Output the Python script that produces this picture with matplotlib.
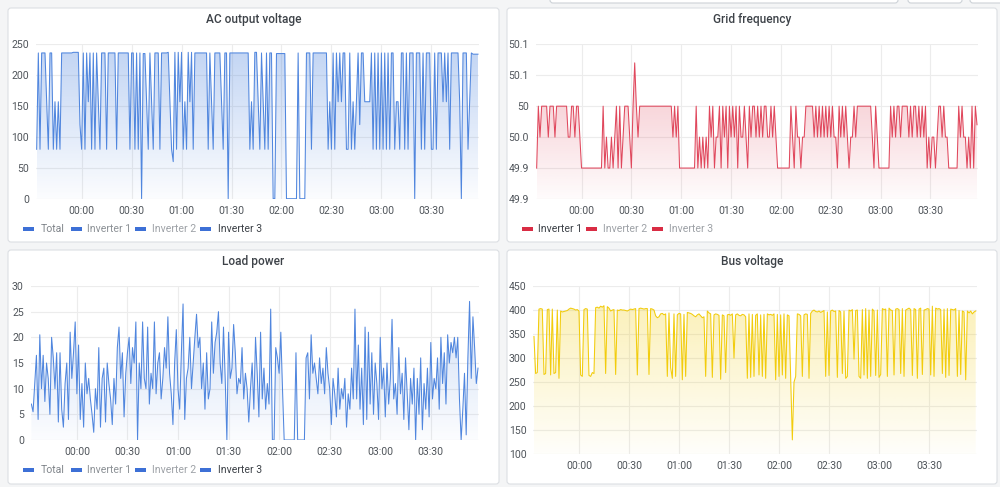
import matplotlib
matplotlib.use("Agg")
import matplotlib.pyplot as plt
import matplotlib.colors as mcolors
from matplotlib.patches import FancyBboxPatch, Rectangle
import numpy as np

plt.rcParams["font.family"] = ["Roboto", "DejaVu Sans"]

W, H = 1000, 487

# minutes relative to 00:00, first sample at 23:33, one sample per minute
start_minute = -27
x_range = (-27.4, 238.6)
tick_minutes = [0, 30, 60, 90, 120, 150, 180, 210]
tick_labels = ["00:00", "00:30", "01:00", "01:30", "02:00", "02:30", "03:00", "03:30"]

ac_voltage = [
    80, 236, 80, 236, 236, 236, 157, 80, 236, 236,
    80, 157, 80, 157, 80, 236, 236, 236, 236, 236,
    236, 236, 237, 237, 237, 237, 120, 80, 236, 80,
    236, 157, 236, 80, 236, 80, 236, 157, 80, 236,
    236, 236, 80, 236, 236, 236, 236, 236, 80, 236,
    236, 236, 236, 236, 236, 236, 80, 236, 236, 80,
    236, 80, 236, 0, 235, 235, 157, 80, 236, 157,
    80, 236, 236, 236, 80, 236, 236, 236, 236, 237,
    157, 80, 60, 237, 80, 237, 157, 237, 80, 157,
    80, 237, 157, 237, 80, 236, 236, 236, 236, 236,
    236, 236, 236, 80, 236, 157, 80, 236, 236, 236,
    236, 157, 80, 236, 236, 0, 236, 236, 236, 236,
    236, 236, 236, 236, 236, 236, 236, 236, 80, 157,
    80, 237, 237, 157, 80, 236, 157, 80, 236, 80,
    236, 236, 0, 0, 235, 235, 235, 235, 235, 235,
    0, 0, 0, 0, 0, 0, 0, 236, 0, 0,
    0, 0, 236, 236, 236, 80, 236, 236, 236, 236,
    236, 236, 236, 236, 236, 80, 157, 80, 236, 80,
    236, 157, 236, 157, 236, 236, 80, 80, 236, 80,
    157, 80, 157, 236, 120, 236, 236, 157, 157, 157,
    157, 236, 80, 236, 80, 236, 80, 236, 80, 236,
    80, 236, 80, 236, 236, 80, 157, 157, 80, 236,
    236, 80, 236, 80, 236, 236, 236, 0, 236, 236,
    236, 80, 236, 80, 236, 236, 236, 80, 80, 236,
    80, 236, 236, 236, 157, 236, 157, 236, 80, 236,
    236, 236, 236, 236, 157, 0, 236, 236, 236, 80,
    157, 236, 234, 234, 234, 234,
]

grid_frequency = [
    49.9, 50.0, 49.95, 50.0, 50.0, 50.0, 50.0, 49.95, 50.0, 50.0,
    50.0, 49.95, 50.0, 50.0, 50.0, 50.0, 50.0, 50.0, 50.0, 49.95,
    49.95, 50.0, 50.0, 49.95, 50.0, 50.0, 49.95, 49.9, 49.9, 49.9,
    49.9, 49.9, 49.9, 49.9, 49.9, 49.9, 49.9, 49.9, 49.9, 49.9,
    50.0, 49.9, 49.95, 49.9, 49.9, 49.95, 49.9, 49.95, 50.0, 49.9,
    50.0, 49.9, 49.95, 50.0, 50.0, 50.0, 49.95, 49.9, 50.0, 50.07,
    50.0, 49.95, 50.0, 50.0, 50.0, 50.0, 50.0, 50.0, 50.0, 50.0,
    50.0, 50.0, 50.0, 50.0, 50.0, 50.0, 50.0, 50.0, 50.0, 50.0,
    50.0, 50.0, 49.95, 50.0, 49.95, 50.0, 49.9, 49.9, 49.9, 49.9,
    49.9, 49.9, 49.9, 49.9, 49.9, 49.9, 50.0, 49.9, 49.95, 49.9,
    49.95, 49.9, 49.95, 49.9, 50.0, 49.95, 50.0, 49.9, 49.95, 49.95,
    50.0, 49.9, 50.0, 49.95, 50.0, 49.9, 50.0, 49.95, 50.0, 49.95,
    50.0, 49.9, 50.0, 49.95, 49.95, 50.0, 49.95, 49.9, 50.0, 49.95,
    50.0, 50.0, 49.95, 50.0, 49.95, 50.0, 49.95, 50.0, 50.0, 49.95,
    49.95, 50.0, 49.95, 50.0, 49.95, 49.9, 49.9, 49.9, 49.9, 49.9,
    49.9, 49.9, 49.9, 50.0, 49.95, 49.9, 50.0, 49.95, 49.95, 49.9,
    49.95, 49.95, 50.0, 50.0, 50.0, 50.0, 50.0, 49.95, 50.0, 49.95,
    50.0, 49.95, 50.0, 49.95, 50.0, 49.95, 50.0, 49.95, 50.0, 49.95,
    49.95, 49.9, 50.0, 49.95, 50.0, 49.95, 50.0, 49.95, 49.9, 49.95,
    49.95, 50.0, 49.95, 50.0, 50.0, 50.0, 50.0, 50.0, 50.0, 50.0,
    50.0, 50.0, 49.95, 49.9, 50.0, 49.95, 49.9, 49.9, 49.9, 49.9,
    49.9, 49.9, 49.9, 50.0, 49.95, 50.0, 49.95, 50.0, 50.0, 49.95,
    50.0, 50.0, 50.0, 50.0, 49.95, 50.0, 49.95, 50.0, 50.0, 49.95,
    50.0, 49.95, 50.0, 49.95, 50.0, 49.9, 49.95, 49.9, 49.95, 49.95,
    49.9, 49.95, 50.0, 50.0, 49.95, 50.0, 49.95, 49.95, 49.9, 49.9,
    49.9, 49.9, 49.9, 49.9, 50.0, 49.95, 50.0, 49.95, 49.95, 49.9,
    49.95, 49.9, 50.0, 49.9, 50.0, 49.97,
]

load_power = [
    7, 5.5, 11, 16.5, 4, 20.5, 10, 16.5, 7.5, 15,
    12, 5, 20, 16, 10, 17, 3.5, 17, 6, 2.5,
    11, 15, 4, 21, 12, 17, 23, 9, 18.5, 4,
    11, 2.5, 15, 9, 12, 8, 5, 1.5, 10, 6,
    18, 2.5, 12, 14, 3.5, 15, 11, 8, 3, 12,
    7, 18, 22, 12, 17, 4.5, 13, 17, 20, 11,
    18, 15, 23, 0, 15, 10, 23, 12, 10, 22,
    7, 13, 10, 23, 9, 15, 17, 8, 12, 18,
    14, 24, 13, 9, 3, 15, 21.5, 10, 6, 17,
    26.5, 4, 12, 14, 20, 10, 15, 20, 24.5, 18,
    20, 10, 15, 6, 17, 8, 10, 23, 13, 19,
    21, 25, 15, 11, 22, 12, 0, 21, 12, 14,
    22.5, 17, 9, 12, 11, 18, 8, 13, 10, 3.5,
    10, 15, 6, 20, 13, 4.5, 21, 8, 14, 6,
    11, 7, 25.5, 0, 0, 18, 16, 13, 21, 10,
    0, 0, 0, 0, 0, 0, 0, 17, 0, 0,
    0, 0, 0, 16, 17, 8, 20.5, 13, 15, 12,
    9, 16, 11, 14, 9, 18, 13, 10, 3, 12,
    9, 4.5, 14, 6, 10, 8, 12, 2.5, 9, 6,
    14, 8, 25.5, 8, 18.5, 6, 14, 3, 22, 4,
    21, 7, 17, 5, 15, 11, 4, 20, 10, 14,
    4.5, 15, 7, 12, 23.5, 8, 11, 5, 18, 9,
    13, 4, 16, 9, 2, 12, 7, 14, 0, 12,
    5, 16, 2, 11, 6, 14, 4.5, 19, 8, 12,
    10, 16, 6, 20, 11, 17, 7, 20.5, 15, 19,
    17, 20, 16, 20, 8, 0, 6, 13, 1, 16,
    27, 12, 24, 18, 11, 14,
]

bus_voltage = [
    345, 268, 270, 402, 403, 402, 266, 268, 401, 402,
    265, 402, 268, 270, 400, 258, 398, 396, 397, 398,
    399, 402, 404, 403, 402, 400, 401, 398, 265, 262,
    401, 403, 402, 264, 262, 270, 268, 405, 406, 404,
    408, 406, 409, 268, 407, 404, 398, 400, 401, 266,
    400, 399, 401, 400, 400, 399, 398, 400, 402, 401,
    402, 403, 265, 403, 404, 403, 402, 403, 403, 266,
    403, 402, 400, 388, 384, 386, 392, 393, 390, 392,
    262, 394, 280, 258, 392, 262, 390, 393, 392, 255,
    391, 262, 395, 394, 393, 391, 388, 386, 390, 392,
    388, 384, 386, 262, 398, 394, 392, 260, 390, 392,
    391, 389, 256, 390, 388, 270, 390, 391, 389, 392,
    300, 390, 392, 389, 388, 391, 390, 386, 258, 392,
    260, 391, 262, 389, 392, 265, 390, 262, 391, 258,
    392, 390, 391, 389, 392, 255, 391, 262, 390, 265,
    392, 258, 390, 388, 262, 130, 250, 262, 392, 391,
    388, 262, 390, 392, 391, 258, 393, 398, 400, 397,
    396, 398, 395, 397, 399, 262, 396, 264, 398, 400,
    397, 398, 260, 399, 396, 268, 398, 258, 262, 400,
    398, 401, 298, 399, 400, 262, 258, 401, 265, 403,
    258, 400, 262, 402, 398, 264, 400, 260, 266, 403,
    401, 402, 262, 404, 400, 399, 265, 402, 403, 401,
    268, 403, 262, 400, 402, 404, 401, 264, 403, 401,
    258, 402, 404, 266, 400, 401, 403, 402, 265, 408,
    262, 404, 402, 403, 401, 268, 402, 260, 403, 264,
    402, 401, 400, 403, 262, 399, 266, 398, 396, 255,
    398, 394, 398, 392, 396, 398,
]

freq_ticks = [49.85, 49.9, 49.95, 50.0, 50.05, 50.1]
freq_tick_labels = ["49.9", "49.9", "50.0", "50", "50.1", "50.1"]

BLUE = "#5086de"
BLUE_KEY = "#3d70d6"
RED = "#e0475c"
RED_KEY = "#d92c44"
YELLOW = "#f2cc0c"
TEXT = "#3d4248"
TICK = "#50555b"
DIM = "#8c9196"


def fig_text(fig, x, y, s, **kw):
    fig.text(x / W, 1 - y / H, s, **kw)


def add_panel(fig, x0, y0, x1, y1, title):
    box = FancyBboxPatch(
        (x0 / 100, (H - y1) / 100), (x1 - x0) / 100, (y1 - y0) / 100,
        boxstyle="round,pad=0,rounding_size=0.03",
        transform=fig.dpi_scale_trans, fc="white", ec="#dcdfe3", lw=0.8, zorder=-1,
    )
    fig.add_artist(box)
    fig_text(fig, (x0 + x1) / 2, y0 + 12, title, ha="center", va="center",
             fontsize=8.6, color=TEXT, fontweight="medium")


def make_axes(fig, x0, y0, x1, y1):
    ax = fig.add_axes([x0 / W, 1 - y1 / H, (x1 - x0) / W, (y1 - y0) / H])
    ax.set_facecolor("none")
    for s in ax.spines.values():
        s.set_visible(False)
    ax.tick_params(length=0, labelsize=7.6, labelcolor=TICK, pad=5)
    ax.grid(color="#ececec", lw=0.8)
    ax.set_axisbelow(True)
    ax.set_xticks(tick_minutes)
    ax.set_xticklabels(tick_labels)
    return ax


def draw_series(ax, values, color, ylim, alpha_top):
    x = start_minute + np.arange(len(values))
    y = np.array(values, dtype=float)
    poly = ax.fill_between(x, y, ylim[0], facecolor="none", edgecolor="none")
    grad = np.zeros((200, 1, 4))
    grad[:, :, :3] = mcolors.to_rgb(color)
    grad[:, 0, 3] = np.linspace(alpha_top, 0.02, 200)
    im = ax.imshow(grad, aspect="auto", origin="upper", zorder=1,
                   extent=[x[0], x[-1], ylim[0], ylim[1]], interpolation="bilinear")
    im.set_clip_path(poly.get_paths()[0], transform=ax.transData)
    ax.plot(x, y, color=color, lw=0.75, zorder=3)
    ax.set_xlim(*x_range)
    ax.set_ylim(*ylim)


def add_legend(fig, y, names, colors, key_color):
    key_x = [23, 71, 135, 200]
    text_x = [40.5, 87, 152, 217.5]
    for i, (name, tc) in enumerate(zip(names, colors)):
        fig.add_artist(Rectangle((key_x[i] / 100, (H - y - 2) / 100), 11 / 100, 4 / 100,
                                 transform=fig.dpi_scale_trans, fc=key_color, ec="none"))
        fig_text(fig, text_x[i], y, name, ha="left", va="center", fontsize=7.6, color=tc)


def main():
    fig = plt.figure(figsize=(W / 100, H / 100), dpi=100)
    fig.patch.set_facecolor("#f4f5f6")

    # fragments of the toolbar buttons at the top edge
    for bx0, bx1 in [(550, 898), (908, 962), (970, 1010)]:
        fig.add_artist(FancyBboxPatch((bx0 / 100, (H - 3) / 100), (bx1 - bx0) / 100, 0.2,
                                      boxstyle="round,pad=0,rounding_size=0.03",
                                      transform=fig.dpi_scale_trans, fc="white",
                                      ec="#cdd2d7", lw=0.8, zorder=-1))

    add_panel(fig, 8, 8, 499, 242, "AC output voltage")
    add_panel(fig, 507, 8, 997, 242, "Grid frequency")
    add_panel(fig, 8, 250, 499, 484, "Load power")
    add_panel(fig, 507, 250, 997, 484, "Bus voltage")

    ax1 = make_axes(fig, 36, 44.3, 479, 198.7)
    draw_series(ax1, ac_voltage, BLUE, (0, 250), 0.36)
    ax1.set_yticks([0, 50, 100, 150, 200, 250])

    ax2 = make_axes(fig, 536, 44.3, 978, 199)
    draw_series(ax2, grid_frequency, RED, (49.85, 50.1), 0.36)
    ax2.set_yticks(freq_ticks)
    ax2.set_yticklabels(freq_tick_labels)

    ax3 = make_axes(fig, 30.7, 286, 479, 440)
    draw_series(ax3, load_power, BLUE, (0, 30), 0.3)
    ax3.set_yticks([0, 5, 10, 15, 20, 25, 30])

    ax4 = make_axes(fig, 533.3, 286, 976.7, 454.3)
    draw_series(ax4, bus_voltage, YELLOW, (100, 450), 0.32)
    ax4.set_yticks([100, 150, 200, 250, 300, 350, 400, 450])

    names = ["Total", "Inverter 1", "Inverter 2", "Inverter 3"]
    blue_cols = ["#80858b", DIM, "#9ea2a7", TEXT]
    add_legend(fig, 229, names, blue_cols, BLUE_KEY)
    add_legend(fig, 470, names, blue_cols, BLUE_KEY)

    red_names = ["Inverter 1", "Inverter 2", "Inverter 3"]
    red_cols = [TEXT, "#9ea2a7", "#9ea2a7"]
    for kx, tx, name, tc in zip([522, 586, 652], [538, 603, 669], red_names, red_cols):
        fig.add_artist(Rectangle((kx / 100, (H - 229 - 2) / 100), 11 / 100, 4 / 100,
                                 transform=fig.dpi_scale_trans, fc=RED_KEY, ec="none"))
        fig_text(fig, tx, 229, name, ha="left", va="center", fontsize=7.6, color=tc)

    fig.savefig("out.png", dpi=100, facecolor=fig.get_facecolor())


if __name__ == "__main__":
    main()
